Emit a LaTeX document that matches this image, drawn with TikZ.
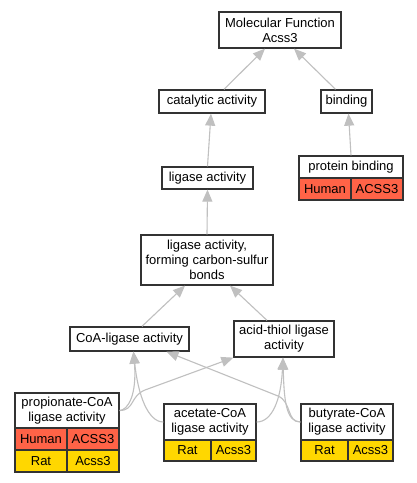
\documentclass[tikz,border=0pt]{standalone}
\usepackage{fontspec}
\setmainfont{Liberation Sans}
\usetikzlibrary{arrows.meta}
\definecolor{humanred}{HTML}{FF6347}
\definecolor{ratgold}{HTML}{FFD700}
\definecolor{isagray}{HTML}{C0C0C0}
\tikzset{
	term/.style={draw=black!80,line width=1.3pt,fill=white,inner sep=0pt,align=center,font=\fontsize{13}{15}\selectfont},
	cell/.style={term,minimum height=22},
	isa/.style={draw=isagray,line width=1.1pt,-{Triangle[length=12pt,width=10pt]}}
}
\begin{document}
\begin{tikzpicture}[x=1pt,y=-1pt]
	\fill[white] (0,0) rectangle (417,483);
	% Begriffe
	\node[term,minimum width=122,minimum height=36] (mf) at (280,30) {Molecular Function\\Acss3};
	\node[term,minimum width=106,minimum height=23] (catalytic) at (212,101.5) {catalytic activity};
	\node[term,minimum width=51,minimum height=23] (binding) at (346.5,101.5) {binding};
	\node[term,minimum width=104,minimum height=22] (protbind) at (351,167) {protein binding};
	\node[cell,fill=humanred,minimum width=52] (protbindhs) at (325,189) {Human};
	\node[cell,fill=humanred,minimum width=52] (protbindhsg) at (377,189) {ACSS3};
	\node[term,minimum width=91,minimum height=22] (ligase) at (207.5,178) {ligase activity};
	\node[term,minimum width=132,minimum height=50] (csbond) at (207,260) {ligase activity,\\forming carbon-sulfur\\bonds};
	\node[term,minimum width=119,minimum height=24] (coa) at (129.5,339) {CoA-ligase activity};
	\node[term,minimum width=100,minimum height=36] (acidthiol) at (284,339) {acid-thiol ligase\\activity};
	%Blaetter
	\node[term,minimum width=104,minimum height=35] (propionate) at (67,410.5) {propionate-CoA\\ligase activity};
	\node[cell,fill=humanred,minimum width=52] (propionatehs) at (41,439) {Human};
	\node[cell,fill=humanred,minimum width=52] (propionatehsg) at (93,439) {ACSS3};
	\node[cell,fill=ratgold,minimum width=52] (propionatern) at (41,461) {Rat};
	\node[cell,fill=ratgold,minimum width=52] (propionaterng) at (93,461) {Acss3};
	\node[term,minimum width=92,minimum height=36] (acetate) at (210,422) {acetate-CoA\\ligase activity};
	\node[cell,fill=ratgold,minimum width=47,minimum height=21] (acetatern) at (187.5,450.5) {Rat};
	\node[cell,fill=ratgold,minimum width=45,minimum height=21] (acetaterng) at (233.5,450.5) {Acss3};
	\node[term,minimum width=92,minimum height=36] (butyrate) at (347,422) {butyrate-CoA\\ligase activity};
	\node[cell,fill=ratgold,minimum width=47,minimum height=21] (butyratern) at (324.5,450.5) {Rat};
	\node[cell,fill=ratgold,minimum width=45,minimum height=21] (butyraterng) at (370.5,450.5) {Acss3};
	% Kanten
	\draw[isa] ([xshift=12]catalytic.north) -- ([xshift=-15]mf.south);
	\draw[isa] ([xshift=-11]binding.north) -- ([xshift=14]mf.south);
	\draw[isa] (protbind.north) -- ([xshift=2]binding.south);
	\draw[isa] (ligase.north) -- ([xshift=-1]catalytic.south);
	\draw[isa] (csbond.north) -- (ligase.south);
	\draw[isa] ([xshift=12.5]coa.north) -- ([xshift=-22]csbond.south);
	\draw[isa] ([xshift=-17]acidthiol.north) -- ([xshift=23]csbond.south);
	\draw[isa] (propionate.east) .. controls (128,410) and (137,395) .. ([xshift=4]coa.south);
	\draw[isa] (propionate.east) .. controls +(15,0) and (130,396) .. (145,390) -- (acidthiol.south west);
	\draw[isa] (acetate.west) .. controls (148,422) and (138,395) .. ([xshift=4]coa.south);
	\draw[isa] (acetate.east) .. controls (272,422) and (281,400) .. ([xshift=-1]acidthiol.south);
	\draw[isa] (butyrate.west) .. controls +(-14,0) and (292,402) .. (278,396) -- ([xshift=37]coa.south);
	\draw[isa] (butyrate.west) .. controls (286,422) and (284,400) .. ([xshift=-1]acidthiol.south);
\end{tikzpicture}
\end{document}
